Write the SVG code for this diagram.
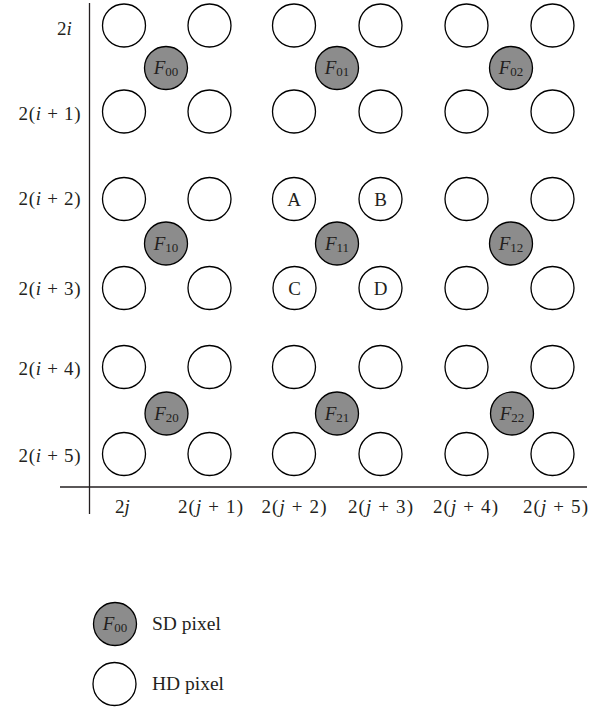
<svg xmlns="http://www.w3.org/2000/svg" width="608" height="707" viewBox="0 0 608 707">
<style>
text{font-family:"Liberation Serif","Times New Roman",serif;fill:#231f20;font-size:19px}
.it{font-style:italic}
.sub{font-size:13px}
.hd{fill:#fff;stroke:#000;stroke-width:1.3}
.sd{fill:#8c8c8c;stroke:#000;stroke-width:1.3}
.ax{stroke:#231f20;stroke-width:1.3;fill:none}
.lg{font-size:19.5px}
</style>
<g id="axes">
<line class="ax" x1="89.5" y1="3" x2="89.5" y2="514"/>
<line class="ax" x1="60" y1="487" x2="587" y2="487"/>
</g>
<g id="row-labels">
<text x="57" y="35">2<tspan class="it">i</tspan></text>
<text x="18.5" y="120" textLength="62" lengthAdjust="spacing">2(<tspan class="it">i</tspan> + 1)</text>
<text x="18.5" y="205" textLength="62" lengthAdjust="spacing">2(<tspan class="it">i</tspan> + 2)</text>
<text x="18.5" y="295" textLength="62" lengthAdjust="spacing">2(<tspan class="it">i</tspan> + 3)</text>
<text x="18.5" y="375" textLength="62" lengthAdjust="spacing">2(<tspan class="it">i</tspan> + 4)</text>
<text x="18.5" y="462" textLength="62" lengthAdjust="spacing">2(<tspan class="it">i</tspan> + 5)</text>
</g>
<g id="col-labels">
<text x="115" y="513">2<tspan class="it">j</tspan></text>
<text x="178" y="513" textLength="65" lengthAdjust="spacing">2(<tspan class="it">j</tspan> + 1)</text>
<text x="261.5" y="513" textLength="65" lengthAdjust="spacing">2(<tspan class="it">j</tspan> + 2)</text>
<text x="348" y="513" textLength="65" lengthAdjust="spacing">2(<tspan class="it">j</tspan> + 3)</text>
<text x="433" y="513" textLength="65" lengthAdjust="spacing">2(<tspan class="it">j</tspan> + 4)</text>
<text x="523" y="513" textLength="65" lengthAdjust="spacing">2(<tspan class="it">j</tspan> + 5)</text>
</g>
<g id="hd-pixels">
<circle class="hd" cx="124" cy="25.5" r="21.5"/><circle class="hd" cx="209.5" cy="25.5" r="21.5"/><circle class="hd" cx="294" cy="25.5" r="21.5"/><circle class="hd" cx="380.5" cy="25.5" r="21.5"/><circle class="hd" cx="466.5" cy="25.5" r="21.5"/><circle class="hd" cx="552.5" cy="25.5" r="21.5"/>
<circle class="hd" cx="124" cy="111.5" r="21.5"/><circle class="hd" cx="209.5" cy="111.5" r="21.5"/><circle class="hd" cx="294" cy="111.5" r="21.5"/><circle class="hd" cx="380.5" cy="111.5" r="21.5"/><circle class="hd" cx="466.5" cy="111.5" r="21.5"/><circle class="hd" cx="552.5" cy="111.5" r="21.5"/>
<circle class="hd" cx="124" cy="199" r="21.5"/><circle class="hd" cx="209.5" cy="199" r="21.5"/><circle class="hd" cx="466.5" cy="199" r="21.5"/><circle class="hd" cx="552.5" cy="199" r="21.5"/>
<circle class="hd" cx="124" cy="288" r="21.5"/><circle class="hd" cx="209.5" cy="288" r="21.5"/><circle class="hd" cx="466.5" cy="288" r="21.5"/><circle class="hd" cx="552.5" cy="288" r="21.5"/>
<circle class="hd" cx="124" cy="367" r="21.5"/><circle class="hd" cx="209.5" cy="367" r="21.5"/><circle class="hd" cx="294" cy="367" r="21.5"/><circle class="hd" cx="380.5" cy="367" r="21.5"/><circle class="hd" cx="466.5" cy="367" r="21.5"/><circle class="hd" cx="552.5" cy="367" r="21.5"/>
<circle class="hd" cx="124" cy="454" r="21.5"/><circle class="hd" cx="209.5" cy="454" r="21.5"/><circle class="hd" cx="294" cy="454" r="21.5"/><circle class="hd" cx="380.5" cy="454" r="21.5"/><circle class="hd" cx="466.5" cy="454" r="21.5"/><circle class="hd" cx="552.5" cy="454" r="21.5"/>
</g>
<g id="A"><circle class="hd" cx="294" cy="199" r="21.5"/><text x="294" y="205.5" text-anchor="middle">A</text></g>
<g id="B"><circle class="hd" cx="380.5" cy="199" r="21.5"/><text x="380.5" y="205.5" text-anchor="middle">B</text></g>
<g id="C"><circle class="hd" cx="294.5" cy="288" r="21.5"/><text x="294.5" y="294.5" text-anchor="middle">C</text></g>
<g id="D"><circle class="hd" cx="380.5" cy="288" r="21.5"/><text x="380.5" y="294.5" text-anchor="middle">D</text></g>
<g id="F00"><circle class="sd" cx="166" cy="68" r="21.5"/><text x="166" y="74" text-anchor="middle"><tspan class="it">F</tspan><tspan class="sub" dy="2">00</tspan></text></g>
<g id="F01"><circle class="sd" cx="337" cy="68" r="21.5"/><text x="337" y="74" text-anchor="middle"><tspan class="it">F</tspan><tspan class="sub" dy="2">01</tspan></text></g>
<g id="F02"><circle class="sd" cx="511" cy="68" r="21.5"/><text x="511" y="74" text-anchor="middle"><tspan class="it">F</tspan><tspan class="sub" dy="2">02</tspan></text></g>
<g id="F10"><circle class="sd" cx="166" cy="243.5" r="21.5"/><text x="166" y="249.5" text-anchor="middle"><tspan class="it">F</tspan><tspan class="sub" dy="2">10</tspan></text></g>
<g id="F11"><circle class="sd" cx="337" cy="243.5" r="21.5"/><text x="337" y="249.5" text-anchor="middle"><tspan class="it">F</tspan><tspan class="sub" dy="2">11</tspan></text></g>
<g id="F12"><circle class="sd" cx="511" cy="243.5" r="21.5"/><text x="511" y="249.5" text-anchor="middle"><tspan class="it">F</tspan><tspan class="sub" dy="2">12</tspan></text></g>
<g id="F20"><circle class="sd" cx="166.5" cy="413.5" r="21.5"/><text x="166.5" y="419.5" text-anchor="middle"><tspan class="it">F</tspan><tspan class="sub" dy="2">20</tspan></text></g>
<g id="F21"><circle class="sd" cx="337" cy="413.5" r="21.5"/><text x="337" y="419.5" text-anchor="middle"><tspan class="it">F</tspan><tspan class="sub" dy="2">21</tspan></text></g>
<g id="F22"><circle class="sd" cx="512" cy="413.5" r="21.5"/><text x="512" y="419.5" text-anchor="middle"><tspan class="it">F</tspan><tspan class="sub" dy="2">22</tspan></text></g>
<g id="legend-sd"><circle class="sd" cx="115" cy="624" r="21.5"/><text x="115" y="629.5" text-anchor="middle"><tspan class="it">F</tspan><tspan class="sub" dy="2">00</tspan></text><text class="lg" x="152" y="630">SD pixel</text></g>
<g id="legend-hd"><circle class="hd" cx="114.5" cy="684" r="21.5"/><text class="lg" x="152" y="690">HD pixel</text></g>
</svg>
